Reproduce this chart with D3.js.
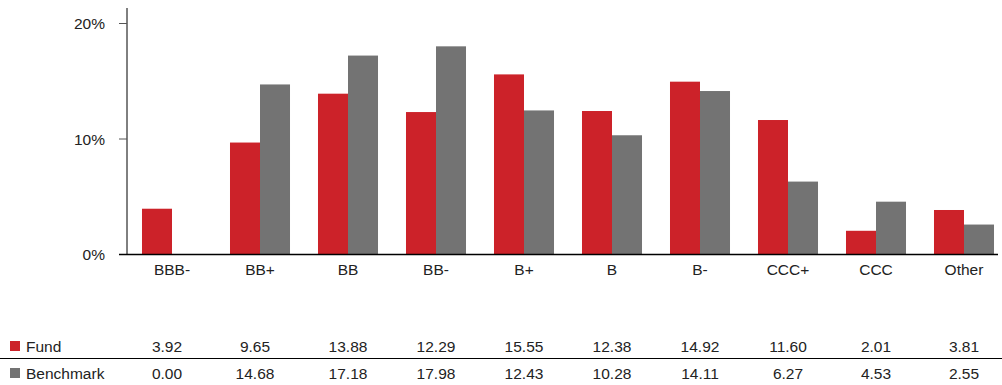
<!DOCTYPE html>
<html>
<head>
<meta charset="utf-8">
<script src="https://cdn.jsdelivr.net/npm/d3@7"></script>
<style>
    body { margin: 0; background: #fff; }
    svg { font-family: "Liberation Sans", Arial, sans-serif; }
</style>
</head>
<body>
<svg id="chart" width="1002" height="385"></svg>
<script>
const categories = [ 'BBB-', 'BB+', 'BB', 'BB-', 'B+', 'B', 'B-', 'CCC+', 'CCC', 'Other' ];
const fund = [ 3.92, 9.65, 13.88, 12.29, 15.55, 12.38, 14.92, 11.60, 2.01, 3.81 ];
const benchmark = [ 0.00, 14.68, 17.18, 17.98, 12.43, 10.28, 14.11, 6.27, 4.53, 2.55 ];
const yTicks = [ 0, 10, 20 ];

const series = [
    { name: 'Fund', values: fund, color: '#cc2229' },
    { name: 'Benchmark', values: benchmark, color: '#737373' }
];

const fs = 15.5;
const svg = d3.select( '#chart' );

const x = d3.scaleBand().domain( categories ).range( [ 128, 1008 ] )
    .paddingInner( 0.318 ).paddingOuter( 0.159 );
const xs = d3.scaleBand().domain( series.map( s => s.name ) ).range( [ 0, x.bandwidth() ] );
const y = d3.scaleLinear().domain( [ 0, 20 ] ).range( [ 254, 23 ] );

// bars
const groups = svg.append( 'g' ).selectAll( 'g' )
    .data( categories )
    .enter().append( 'g' )
    .attr( 'transform', d => 'translate(' + x( d ) + ',0)' );

groups.selectAll( 'rect' )
    .data( ( d, i ) => series.map( s => ( { name: s.name, color: s.color, value: s.values[ i ] } ) ) )
    .enter().append( 'rect' )
    .attr( 'x', d => xs( d.name ) )
    .attr( 'width', xs.bandwidth() )
    .attr( 'y', d => y( d.value ) )
    .attr( 'height', d => y( 0 ) - y( d.value ) )
    .attr( 'fill', d => d.color );

// y axis
const yAxis = svg.append( 'g' ).attr( 'transform', 'translate(127,0)' );
yAxis.append( 'line' )
    .attr( 'x1', 0 ).attr( 'x2', 0 ).attr( 'y1', 8 ).attr( 'y2', y( 0 ) )
    .attr( 'stroke', '#000' );
yAxis.selectAll( '.tick' )
    .data( yTicks )
    .enter().append( 'line' )
    .attr( 'x1', -8 ).attr( 'x2', 0 )
    .attr( 'y1', d => y( d ) + 0.5 ).attr( 'y2', d => y( d ) + 0.5 )
    .attr( 'stroke', '#555' );
yAxis.selectAll( 'text' )
    .data( yTicks )
    .enter().append( 'text' )
    .attr( 'x', -22 )
    .attr( 'y', d => y( d ) + 6 )
    .attr( 'text-anchor', 'end' )
    .attr( 'font-size', fs )
    .attr( 'fill', '#222' )
    .text( d => d + '%' );

// x axis
svg.append( 'line' )
    .attr( 'x1', 119 ).attr( 'x2', 998 )
    .attr( 'y1', y( 0 ) + 0.5 ).attr( 'y2', y( 0 ) + 0.5 )
    .attr( 'stroke', '#000' ).attr( 'stroke-width', 1.5 );

svg.append( 'g' ).selectAll( 'text' )
    .data( categories )
    .enter().append( 'text' )
    .attr( 'x', d => x( d ) + x.bandwidth() / 2 )
    .attr( 'y', 275 )
    .attr( 'text-anchor', 'middle' )
    .attr( 'font-size', fs )
    .attr( 'fill', '#222' )
    .text( d => d );

// data table
const rowY = [ 352, 379 ];
const table = svg.append( 'g' );

series.forEach( ( s, r ) => {
    table.append( 'rect' )
        .attr( 'x', 10 ).attr( 'y', rowY[ r ] - 11 )
        .attr( 'width', 10 ).attr( 'height', 10 )
        .attr( 'fill', s.color );
    table.append( 'text' )
        .attr( 'x', 26 ).attr( 'y', rowY[ r ] )
        .attr( 'font-size', fs ).attr( 'fill', '#222' )
        .text( s.name );
    table.selectAll( '.v' + r )
        .data( s.values )
        .enter().append( 'text' )
        .attr( 'x', ( d, i ) => x( categories[ i ] ) + x.bandwidth() / 2 - ( i < 2 ? 5 : 0 ) )
        .attr( 'y', rowY[ r ] )
        .attr( 'text-anchor', 'middle' )
        .attr( 'font-size', fs ).attr( 'fill', '#222' )
        .text( d => d.toFixed( 2 ) );
} );

table.append( 'line' )
    .attr( 'x1', 0 ).attr( 'x2', 1002 )
    .attr( 'y1', 358.5 ).attr( 'y2', 358.5 )
    .attr( 'stroke', '#000' ).attr( 'stroke-width', 1.2 );
</script>
</body>
</html>
